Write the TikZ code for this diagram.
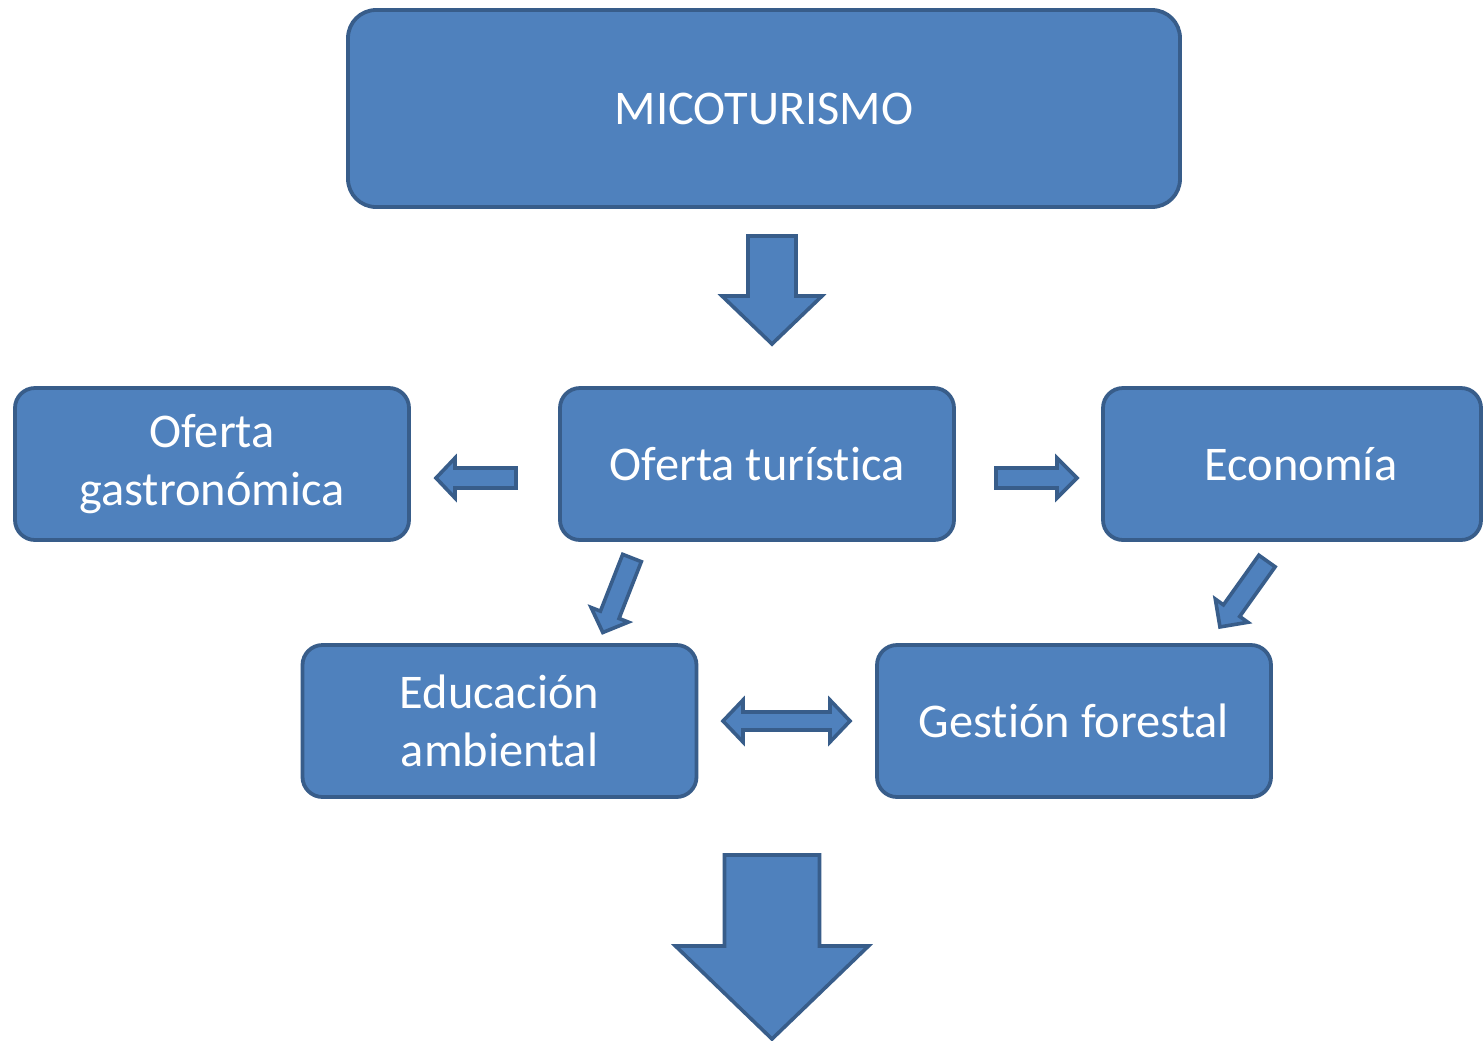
\documentclass[tikz,border=0pt]{standalone}
\usepackage{fontspec}
\setmainfont[Ligatures=NoCommon]{Carlito}
\definecolor{boxfill}{HTML}{4F81BD}
\definecolor{boxline}{HTML}{385D8A}
\newcommand\barrow[7]{%
\begin{scope}[shift={(#1,#2)}, rotate=#3]
\draw[blockarr] (0,-#5) -- ({#4-#7},-#5) -- ({#4-#7},-#6) -- (#4,0) -- ({#4-#7},#6) -- ({#4-#7},#5) -- (0,#5) -- cycle;
\end{scope}}
\begin{document}
\begin{tikzpicture}[x=0.5pt,y=-0.5pt,
  box/.style={draw=boxline, fill=boxfill, line width=1.9pt, rounded corners=10pt,
    minimum width=197pt, minimum height=76pt, text=white, align=center,
    font=\fontsize{24.2}{29}\selectfont, inner sep=0pt},
  blockarr/.style={draw=boxline, fill=boxfill, line width=1.8pt, line join=miter}]
\path[use as bounding box, clip] (0,0) rectangle (1483,1040);
\fill[white] (0,0) rectangle (1483,1040);
\node[box, minimum width=416pt, minimum height=98.5pt, rounded corners=14pt] (mico) at (764,108.5) {MICOTURISMO};
\node[box] (gastro) at (212,464) {Oferta\\gastronómica};
\node[box] (turis) at (757,464) {Oferta turística};
\node[box, minimum width=189pt] (eco) at (1292,464) {\hspace*{9pt}Economía};
\node[box] (edu) at (499.5,721) {Educación\\ambiental};
\node[box] (gest) at (1074,721) {Gestión forestal};
% block arrows
\barrow{772}{236}{-90}{108}{24}{50}{48}
\barrow{516}{478}{180}{80}{10}{20}{19}
\barrow{996}{478}{0}{81}{10}{20}{20}
\barrow{632}{558}{-111.4}{80}{10}{20}{19}
\barrow{1267}{561}{-125.5}{81}{10}{20}{20}
\barrow{772}{855}{-90}{184}{47.5}{96.5}{93}
\draw[blockarr] (723,721) -- (743,700) -- (743,712) -- (830,712) -- (830,700) -- (850,721)
  -- (830,742) -- (830,730) -- (743,730) -- (743,742) -- cycle;
\end{tikzpicture}
\end{document}
